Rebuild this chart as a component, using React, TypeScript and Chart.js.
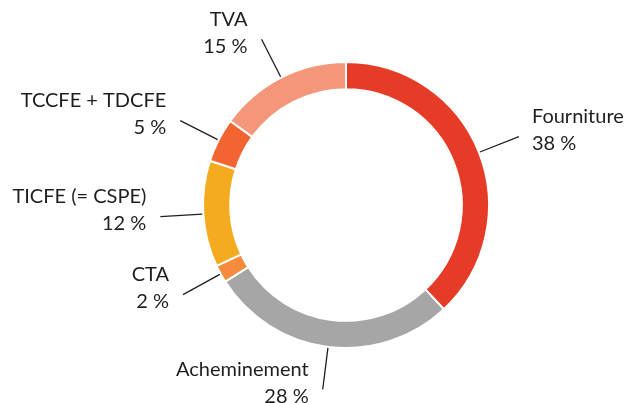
import React, { useEffect, useRef } from "react";
import { Chart, registerables } from "chart.js";

Chart.register(...registerables);

const categories = ["Fourniture", "Acheminement", "CTA", "TICFE (= CSPE)", "TCCFE + TDCFE", "TVA"];
const values = [38, 28, 2, 12, 5, 15];
const valueLabels = ["38 %", "28 %", "2 %", "12 %", "5 %", "15 %"];
const colors = ["#E63C27", "#A6A6A6", "#F68B3E", "#F5AB1F", "#F26530", "#F4967A"];

const FONT = "20px Lato, 'Open Sans', sans-serif";

const leaderPlugin = {
  id: "leaderLabels",
  afterDatasetsDraw(chart: any) {
    const ctx = chart.ctx;
    const meta = chart.getDatasetMeta(0);
    ctx.save();
    ctx.font = FONT;
    ctx.fillStyle = "#1f1f1f";
    ctx.strokeStyle = "#1f1f1f";
    ctx.lineWidth = 1.3;
    meta.data.forEach((arc: any, i: number) => {
      const p = arc.getProps(["x", "y", "startAngle", "endAngle", "outerRadius"], true);
      const mid = (p.startAngle + p.endAngle) / 2;
      const c = Math.cos(mid);
      const s = Math.sin(mid);
      const r1 = p.outerRadius + 1;
      const r2 = p.outerRadius + 43;
      const x1 = p.x + c * r1;
      const y1 = p.y + s * r1;
      const x2 = p.x + c * r2;
      const y2 = p.y + s * r2;
      ctx.beginPath();
      ctx.moveTo(x1, y1);
      ctx.lineTo(x2, y2);
      ctx.stroke();
      const right = c > 0;
      ctx.textAlign = right ? "left" : "right";
      ctx.textBaseline = "alphabetic";
      const tx = right ? x2 + 13 : x2 - 14;
      ctx.fillText(categories[i], tx, y2 - 13.5);
      ctx.fillText(valueLabels[i], tx, y2 + 13.5);
    });
    ctx.restore();
  },
};

export default function App() {
  const ref = useRef<HTMLCanvasElement | null>(null);
  useEffect(() => {
    if (!ref.current) return;
    const chart = new Chart(ref.current, {
      type: "doughnut",
      data: {
        labels: categories,
        datasets: [
          {
            data: values,
            backgroundColor: colors,
            borderColor: "#ffffff",
            borderWidth: 2,
          },
        ],
      },
      options: {
        responsive: false,
        animation: false,
        cutout: "81%",
        layout: { padding: { left: 202, right: 143, top: 61, bottom: 54 } },
        plugins: { legend: { display: false }, tooltip: { enabled: false } },
      },
      plugins: [leaderPlugin],
    });
    return () => chart.destroy();
  }, []);
  return (
    <div style={{ position: "absolute", left: 0, top: 0, width: 633, height: 403, background: "#fff" }}>
      <canvas ref={ref} width={633} height={403} />
    </div>
  );
}
